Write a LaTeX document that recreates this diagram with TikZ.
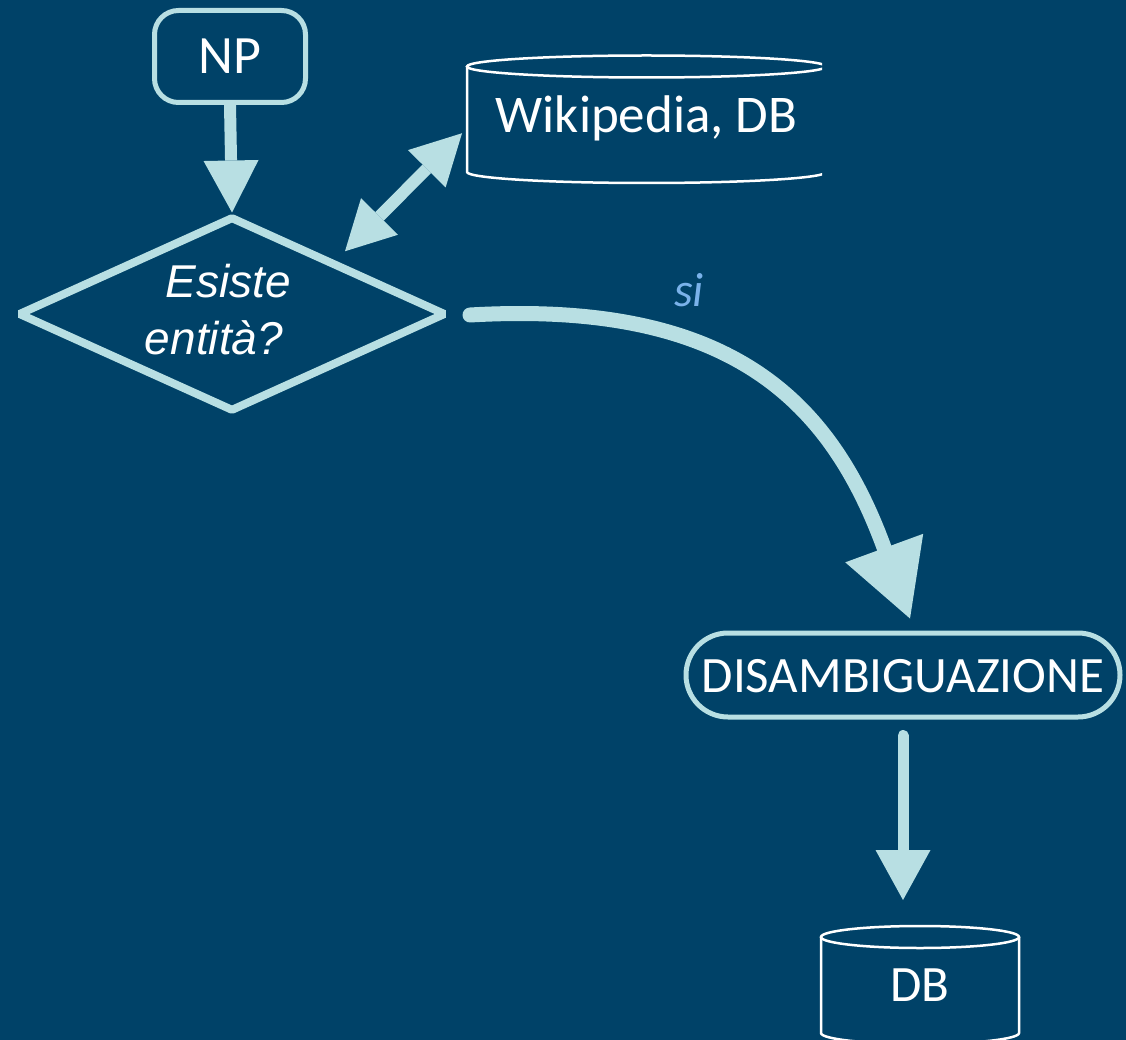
\documentclass[tikz,border=0pt]{standalone}
\usepackage{fontspec}
\setmainfont{Carlito}
\newfontfamily\arialfont{Liberation Sans}
\usetikzlibrary{arrows.meta,shapes.geometric,calc}
\definecolor{bgblue}{RGB}{0,66,104}
\definecolor{paleteal}{RGB}{184,223,227}
\definecolor{siblue}{RGB}{122,178,234}

\begin{document}
\begin{tikzpicture}[x=1pt,y=-1pt,
  boxline/.style={draw=paleteal, line width=5pt, inner sep=0pt, text=white},
  cylbody/.style={inner sep=0pt, outer sep=0pt, text=white},
  cylline/.style={draw=white, line width=2.5pt},
  sized/.style={font=\fontsize{#1}{#1}\selectfont},
  qtext/.style={font=\arialfont\itshape\fontsize{46}{55}\selectfont, text=white, inner sep=0pt},
  brush/.style={draw=paleteal, line width=#1},
]
\useasboundingbox (0,0) rectangle (1126,1040);
\clip (0,0) rectangle (1126,1040);
\fill[bgblue] (0,0) rectangle (1126,1040);

% start terminal
\node[boxline, rounded corners=24pt, minimum width=151pt, minimum height=92pt,
      text height=35pt, text depth=0pt, sized=54] (np) at (230,56.5) {NP};

% decision
\node[diamond, draw=paleteal, line width=8pt, line join=bevel,
      minimum width=428pt, minimum height=195pt, inner sep=0pt] (dia) at (232,314) {};
\node[qtext, anchor=base] (esiste) at (228,298) {Esiste};
\node[qtext, anchor=base] (entita) at (214,354) {entità?};

% data store: Wikipedia, DB (right side cut off)
\node[cylbody, minimum width=359pt, minimum height=105.5pt,
      text height=27.5pt, text depth=0pt, sized=53] (wiki) at (646.5,119.25) {Wikipedia, DB};
\begin{scope}
  \clip (0,0) rectangle (822,1040);
  \draw[cylline] (wiki.north west) -- (wiki.south west)
    arc[start angle=180, end angle=360, x radius=179.5pt, y radius=11pt] -- (wiki.north east);
  \draw[cylline] (wiki.north) ellipse[x radius=179.5pt, y radius=11pt];
\end{scope}

% process
\node[boxline, rounded corners=42pt, minimum width=434pt, minimum height=84pt,
      text height=34pt, text depth=0pt, sized=51] (dis) at (903,675) {DISAMBIGUAZIONE};

% data store: DB
\node[cylbody, minimum width=198pt, minimum height=96pt,
      text height=32pt, text depth=0pt, sized=51] (db) at (920,985) {DB};
\draw[cylline] (db.north west) -- (db.south west)
  arc[start angle=180, end angle=360, x radius=99pt, y radius=11pt] -- (db.north east);
\draw[cylline] (db.north) ellipse[x radius=99pt, y radius=11pt];

% connectors
\draw[brush=12pt, -{Triangle[length=52pt,width=55pt,line width=0pt]}]
  (np.south) -- (dia.north);

\draw[brush=12pt,
      {Triangle[length=49pt,width=52pt,line width=0pt]}-{Triangle[length=50pt,width=53pt,line width=0pt]}]
  ($(dia.north east)+(4,-12)$) -- ($(wiki.west)+(-5,14)$);

\draw[brush=15pt, line cap=round, -{Triangle[length=75pt,width=83pt,line width=0pt]}]
  ($(dia.east)+(20,1)$) .. controls (730,300) and (830,400) .. ($(dis.north)+(7,-12)$);
\node[font=\itshape\fontsize{48}{56}\selectfont, text=siblue, inner sep=0pt, anchor=base]
  (si) at (689,307) {si};

\draw[brush=11pt, line cap=round, shorten <=16pt, shorten >=37pt,
      -{Triangle[length=50pt,width=55pt,line width=0pt]}]
  (dis.south) -- (dis.south |- db.north);
\end{tikzpicture}
\end{document}
